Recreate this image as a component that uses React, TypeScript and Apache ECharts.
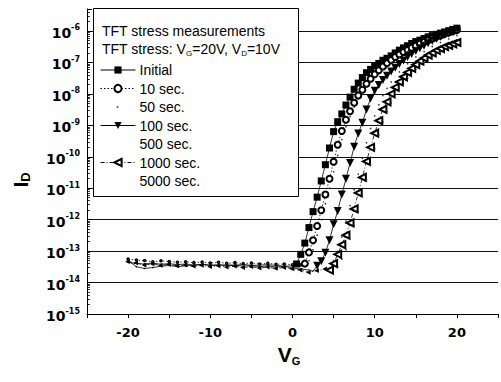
import React, { useEffect, useRef } from 'react';
import * as echarts from 'echarts';

const FONT = '"Liberation Sans", Arial, Helvetica, sans-serif';
const TICK_FONT = '"DejaVu Sans", "Liberation Sans", Arial, sans-serif';

// ---- text ----
const legendNames = ['Initial', '10 sec.', '50 sec.', '100 sec.', '500 sec.', '1000 sec.', '5000 sec.'];
const headerLine1 = 'TFT stress measurements';
const headerLine2 = '{a|TFT stress: V}{s|G}{a|=20V, V}{s|D}{a|=10V}';
const xName = '{v|V}{g|G}';
const yName = '{i|I}{d|D}';

// ---- axes ----
const xMin = -25;
const xMax = 25;
const xInterval = 5;
const yMin = 1e-15;
const yMax = 5e-6;

// ---- data: [V_G (V), I_D (A)] ----
const initialData: [number, number][] = [
  [-20, 5.0e-14], [-19, 3.2e-14], [-18, 2.8e-14], [-17, 3.0e-14], [-16, 3.3e-14], [-15, 3.5e-14],
  [-14, 3.2e-14], [-13, 3.4e-14], [-12, 3.5e-14], [-11, 3.8e-14], [-10, 3.6e-14], [-9, 3.5e-14],
  [-8, 3.7e-14], [-7, 3.5e-14], [-6, 3.8e-14], [-5, 3.5e-14], [-4, 3.6e-14], [-3, 3.7e-14],
  [-2, 3.5e-14], [-1, 3.3e-14], [0, 3.4e-14],
  [0.5, 3.9e-14], [1, 7.9e-14], [1.5, 1.8e-13], [2, 5.6e-13], [2.5, 1.8e-12], [3, 5.2e-12],
  [3.5, 1.7e-11], [4, 5.6e-11], [4.5, 1.9e-10], [5, 6.3e-10], [5.5, 1.3e-9], [6, 2.3e-9],
  [6.5, 4.4e-9], [7, 7.9e-9], [7.5, 1.4e-8], [8, 2.2e-8], [8.5, 3.3e-8], [9, 4.7e-8],
  [9.5, 6.0e-8], [10, 7.8e-8], [10.5, 9.3e-8], [11, 1.17e-7], [11.5, 1.35e-7], [12, 1.62e-7],
  [12.5, 2.0e-7], [13, 2.45e-7], [13.5, 2.9e-7], [14, 3.4e-7], [14.5, 4.0e-7], [15, 4.6e-7],
  [15.5, 5.1e-7], [16, 5.75e-7], [16.5, 6.5e-7], [17, 7.1e-7], [17.5, 7.8e-7], [18, 8.5e-7],
  [18.5, 9.3e-7], [19, 1.02e-6], [19.5, 1.12e-6], [20, 1.23e-6],
];

const sec10Data: [number, number][] = [
  [-20, 5.6e-14], [-19, 5.2e-14], [-18, 5.0e-14], [-17, 4.6e-14], [-16, 4.9e-14], [-15, 4.7e-14],
  [-14, 4.4e-14], [-13, 4.6e-14], [-12, 4.3e-14], [-11, 4.5e-14], [-10, 4.2e-14], [-9, 4.4e-14],
  [-8, 4.1e-14], [-7, 4.3e-14], [-6, 4.0e-14], [-5, 4.2e-14], [-4, 3.9e-14], [-3, 4.1e-14],
  [-2, 3.8e-14], [-1, 3.9e-14], [0, 3.7e-14], [1, 3.6e-14],
  [1.5, 4.0e-14], [2, 9.1e-14], [2.5, 2.2e-13], [3, 6.3e-13], [3.5, 2.0e-12], [4, 6.3e-12],
  [4.5, 2.0e-11], [5, 6.9e-11], [5.5, 2.4e-10], [6, 6.6e-10], [6.5, 1.5e-9], [7, 2.8e-9],
  [7.5, 5.2e-9], [8, 8.9e-9], [8.5, 1.35e-8], [9, 2.1e-8], [9.5, 3.0e-8], [10, 4.2e-8],
  [10.5, 5.6e-8], [11, 7.4e-8], [11.5, 9.5e-8], [12, 1.2e-7], [12.5, 1.48e-7], [13, 1.78e-7],
  [13.5, 2.14e-7], [14, 2.5e-7], [14.5, 2.95e-7], [15, 3.4e-7], [15.5, 3.9e-7], [16, 4.5e-7],
  [16.5, 5.1e-7], [17, 5.75e-7], [17.5, 6.5e-7], [18, 7.2e-7], [18.5, 8.1e-7], [19, 8.9e-7],
  [19.5, 9.8e-7], [20, 1.07e-6],
];

const sec50Data: [number, number][] = [
  [2, 5.0e-14], [2.5, 1.1e-13], [3, 3.2e-13], [3.5, 1.0e-12], [4, 3.2e-12], [4.5, 1.0e-11],
  [5, 3.3e-11], [5.5, 1.1e-10], [6, 3.5e-10], [6.5, 8.9e-10], [7, 1.9e-9], [7.5, 3.8e-9],
  [8, 6.8e-9], [8.5, 1.1e-8], [9, 1.7e-8], [9.5, 2.5e-8], [10, 3.4e-8], [11, 6.0e-8],
  [12, 1.0e-7], [13, 1.5e-7], [14, 2.2e-7], [15, 3.0e-7], [16, 4.1e-7], [17, 5.2e-7],
  [18, 6.6e-7], [19, 8.1e-7], [20, 9.8e-7],
];

const sec100Data: [number, number][] = [
  [-20, 4.4e-14], [-19, 4.0e-14], [-18, 3.9e-14], [-17, 4.2e-14], [-16, 3.8e-14], [-15, 4.0e-14],
  [-14, 3.7e-14], [-13, 3.9e-14], [-12, 3.6e-14], [-11, 3.8e-14], [-10, 3.5e-14], [-9, 3.7e-14],
  [-8, 3.4e-14], [-7, 3.6e-14], [-6, 3.3e-14], [-5, 3.5e-14], [-4, 3.2e-14], [-3, 3.4e-14],
  [-2, 3.1e-14], [-1, 3.3e-14], [0, 2.9e-14], [1, 2.7e-14], [2, 2.5e-14], [2.5, 2.3e-14],
  [3, 3.4e-14], [3.5, 4.8e-14], [4, 8.9e-14], [4.5, 2.2e-13], [5, 7.1e-13], [5.5, 1.9e-12],
  [6, 6.3e-12], [6.5, 2.0e-11], [7, 6.3e-11], [7.5, 2.1e-10], [8, 5.5e-10], [8.5, 1.2e-9],
  [9, 3.2e-9], [9.5, 7.1e-9], [10, 1.26e-8], [10.5, 1.9e-8], [11, 2.75e-8], [11.5, 3.8e-8],
  [12, 5.1e-8], [12.5, 6.8e-8], [13, 8.9e-8], [13.5, 1.15e-7], [14, 1.48e-7], [14.5, 1.86e-7],
  [15, 2.3e-7], [15.5, 2.8e-7], [16, 3.4e-7], [16.5, 4.1e-7], [17, 4.8e-7], [17.5, 5.6e-7],
  [18, 6.5e-7], [18.5, 7.4e-7], [19, 8.3e-7], [19.5, 9.3e-7], [20, 1.02e-6],
];

const sec500Data: [number, number][] = [
  [5, 5.0e-14], [5.5, 1.0e-13], [6, 2.8e-13], [6.5, 8.9e-13], [7, 2.8e-12], [7.5, 8.9e-12],
  [8, 2.8e-11], [8.5, 8.9e-11], [9, 2.8e-10], [9.5, 7.9e-10], [10, 2.0e-9], [10.5, 4.5e-9],
  [11, 8.9e-9], [11.5, 1.5e-8], [12, 2.4e-8], [13, 5.0e-8], [14, 9.1e-8], [15, 1.5e-7],
  [16, 2.2e-7], [17, 3.2e-7], [18, 4.3e-7], [19, 5.6e-7], [20, 7.2e-7],
];

const sec1000Data: [number, number][] = [
  [-20, 4.6e-14], [-19, 4.2e-14], [-18, 3.6e-14], [-17, 3.9e-14], [-16, 3.5e-14], [-15, 3.8e-14],
  [-14, 3.4e-14], [-13, 3.6e-14], [-12, 3.3e-14], [-11, 3.5e-14], [-10, 3.2e-14], [-9, 3.4e-14],
  [-8, 3.1e-14], [-7, 3.3e-14], [-6, 3.0e-14], [-5, 3.2e-14], [-4, 2.9e-14], [-3, 3.1e-14],
  [-2, 2.8e-14], [-1, 3.0e-14], [0, 2.7e-14], [1, 2.5e-14], [2, 2.1e-14], [3, 2.4e-14],
  [4, 2.7e-14],
  [4.5, 2.5e-14], [5, 4.0e-14], [5.5, 7.9e-14], [6, 1.6e-13], [6.5, 3.2e-13], [7, 7.9e-13],
  [7.5, 2.2e-12], [8, 7.1e-12], [8.5, 2.2e-11], [9, 7.1e-11], [9.5, 2.0e-10], [10, 5.6e-10],
  [10.5, 1.4e-9], [11, 3.2e-9], [11.5, 5.6e-9], [12, 1.0e-8], [12.5, 1.6e-8], [13, 2.4e-8],
  [13.5, 3.5e-8], [14, 4.8e-8], [14.5, 6.5e-8], [15, 8.5e-8], [15.5, 1.1e-7], [16, 1.38e-7],
  [16.5, 1.7e-7], [17, 2.0e-7], [17.5, 2.4e-7], [18, 2.75e-7], [18.5, 3.2e-7], [19, 3.5e-7],
  [19.5, 3.9e-7], [20, 4.3e-7],
];

const sec5000Data: [number, number][] = [
  [5.5, 3.2e-14], [6, 5.6e-14], [6.5, 1.1e-13], [7, 2.5e-13], [7.5, 6.3e-13], [8, 1.8e-12],
  [8.5, 5.6e-12], [9, 1.8e-11], [9.5, 5.6e-11], [10, 1.8e-10], [10.5, 5.0e-10], [11, 1.26e-9],
  [11.5, 2.7e-9], [12, 5.2e-9], [13, 1.4e-8], [14, 3.2e-8], [15, 6.0e-8], [16, 1.0e-7],
  [17, 1.5e-7], [18, 2.1e-7], [19, 2.8e-7], [20, 3.5e-7],
];

type MainCfg = {
  name: string;
  data: [number, number][];
  onset: number;
  symbol: string;
  rotate: number;
  size: number;
  line: any;
};

const mainSeries: MainCfg[] = [
  { name: legendNames[0], data: initialData, onset: 0.5, symbol: 'rect', rotate: 0, size: 7, line: 'solid' },
  { name: legendNames[1], data: sec10Data, onset: 1.5, symbol: 'emptyCircle', rotate: 0, size: 6, line: [1.5, 2] },
  { name: legendNames[3], data: sec100Data, onset: 3, symbol: 'triangle', rotate: 180, size: 8, line: 'solid' },
  { name: legendNames[5], data: sec1000Data, onset: 4.5, symbol: 'emptyTriangle', rotate: 90, size: 7, line: [4, 2, 1, 2] },
];

const dotSeries = [
  { name: legendNames[2], data: sec50Data },
  { name: legendNames[4], data: sec500Data },
  { name: legendNames[6], data: sec5000Data },
];

function buildOption(): any {
  const series: any[] = [];
  mainSeries.forEach((s) => {
    series.push({
      type: 'line',
      name: s.name,
      data: s.data,
      symbol: s.symbol,
      symbolRotate: s.rotate,
      symbolSize: (val: number[]) => (val[0] < s.onset ? 1.5 : s.size),
      showAllSymbol: true,
      itemStyle: { color: '#000', borderWidth: 1.2 },
      lineStyle: { color: '#000', width: 0.8, type: s.line },
      z: 3,
    });
  });
  dotSeries.forEach((s) => {
    series.push({
      type: 'line',
      name: s.name,
      data: s.data,
      symbol: 'circle',
      symbolSize: 1.6,
      showAllSymbol: true,
      itemStyle: { color: '#333' },
      lineStyle: { opacity: 0, width: 0 },
      z: 3,
    });
  });

  const legendData = legendNames.map((n) => {
    if (n === '50 sec.' || n === '500 sec.' || n === '5000 sec.') {
      return { name: n, itemStyle: { opacity: 0 }, lineStyle: { opacity: 0 } };
    }
    return { name: n };
  });

  return {
    animation: false,
    backgroundColor: '#fff',
    textStyle: { fontFamily: FONT },
    grid: { left: 87, right: 3, top: 9, bottom: 68, containLabel: false, outerBoundsMode: 'none' },
    legend: {
      show: true,
      orient: 'vertical',
      left: 100,
      top: 63,
      itemWidth: 35,
      itemHeight: 9,
      itemGap: 4.5,
      padding: 0,
      z: 20,
      data: legendData,
      lineStyle: { width: 1 },
      itemStyle: { borderWidth: 1.2 },
      textStyle: { fontSize: 14, fontFamily: FONT, color: '#000', lineHeight: 14, padding: [0, 0, 0, -1] },
      selectedMode: false,
    },
    xAxis: {
      type: 'value',
      min: xMin,
      max: xMax,
      interval: xInterval,
      name: xName,
      nameLocation: 'middle',
      nameGap: 28,
      nameMoveOverlap: false,
      nameTextStyle: {
        padding: [0, 7, 0, 0],
        rich: {
          v: { fontSize: 21, fontWeight: 'bold', fontFamily: FONT, color: '#000', lineHeight: 24 },
          g: { fontSize: 11, fontWeight: 'bold', fontFamily: FONT, color: '#000', lineHeight: 11, verticalAlign: 'bottom' },
        },
      },
      axisLine: { show: true, onZero: false, lineStyle: { color: '#000', width: 1 } },
      axisTick: { show: true, inside: false, length: 4, lineStyle: { color: '#000', width: 1 } },
      axisLabel: {
        margin: 12,
        fontSize: 13,
        fontWeight: 'bold',
        fontFamily: TICK_FONT,
        color: '#000',
        formatter: (v: number) => (v % 10 === 0 && Math.abs(v) < 25 ? String(v) : ''),
      },
      splitLine: { show: false },
    },
    yAxis: {
      type: 'log',
      logBase: 10,
      min: yMin,
      max: yMax,
      splitNumber: 10,
      name: yName,
      nameLocation: 'middle',
      nameGap: 55,
      nameMoveOverlap: false,
      nameTextStyle: {
        padding: [0, 37, 0, 0],
        rich: {
          i: { fontSize: 21, fontWeight: 'bold', fontFamily: FONT, color: '#000', lineHeight: 24 },
          d: { fontSize: 13, fontWeight: 'bold', fontFamily: FONT, color: '#000', lineHeight: 13, verticalAlign: 'bottom' },
        },
      },
      axisLine: { show: true, onZero: false, lineStyle: { color: '#000', width: 1 } },
      axisTick: { show: true, inside: true, length: 5, lineStyle: { color: '#000', width: 1 } },
      minorTick: { show: true, splitNumber: 9, length: 3, lineStyle: { color: '#000', width: 0.8 } },
      axisLabel: {
        margin: 7,
        padding: [4, 0, 0, 0],
        color: '#000',
        formatter: (v: number) => {
          const l = Math.log10(v);
          const e = Math.round(l);
          if (Math.abs(l - e) > 0.01) return '';
          return `{b|10}{s|${e}}`;
        },
        rich: {
          b: { fontSize: 14, fontWeight: 'bold', fontFamily: TICK_FONT, color: '#000', lineHeight: 18 },
          s: { fontSize: 8, fontWeight: 'bold', fontFamily: TICK_FONT, color: '#000', lineHeight: 8, verticalAlign: 'top' },
        },
      },
      splitLine: { show: true, showMinLine: false, showMaxLine: false, lineStyle: { color: '#111', width: 1 } },
    },
    graphic: [
      {
        type: 'rect',
        z: 10,
        shape: { x: 93.5, y: 8.5, width: 205, height: 188 },
        style: { fill: '#fff', stroke: '#000', lineWidth: 1 },
      },
      {
        type: 'text',
        z: 11,
        x: 102,
        y: 31,
        style: { text: headerLine1, fontSize: 14, fontFamily: FONT, fill: '#000', verticalAlign: 'middle' },
      },
      {
        type: 'text',
        z: 11,
        x: 102,
        y: 49,
        style: {
          text: headerLine2,
          verticalAlign: 'middle',
          rich: {
            a: { fontSize: 14, fontFamily: FONT, fill: '#000', lineHeight: 16 },
            s: { fontSize: 8, fontFamily: FONT, fill: '#000', lineHeight: 8, verticalAlign: 'bottom' },
          },
        },
      },
      {
        type: 'circle',
        z: 21,
        shape: { cx: 117.5, cy: 107, r: 0.9 },
        style: { fill: '#444' },
      },
    ],
    series,
  };
}

export default function App() {
  const ref = useRef<HTMLDivElement>(null);
  useEffect(() => {
    if (!ref.current) return;
    const chart = echarts.init(ref.current, null, { renderer: 'svg' });
    chart.setOption(buildOption());
    return () => chart.dispose();
  }, []);
  return (
    <div
      ref={ref}
      style={{ position: 'fixed', left: 0, top: 0, width: 501, height: 382, background: '#fff' }}
    />
  );
}
